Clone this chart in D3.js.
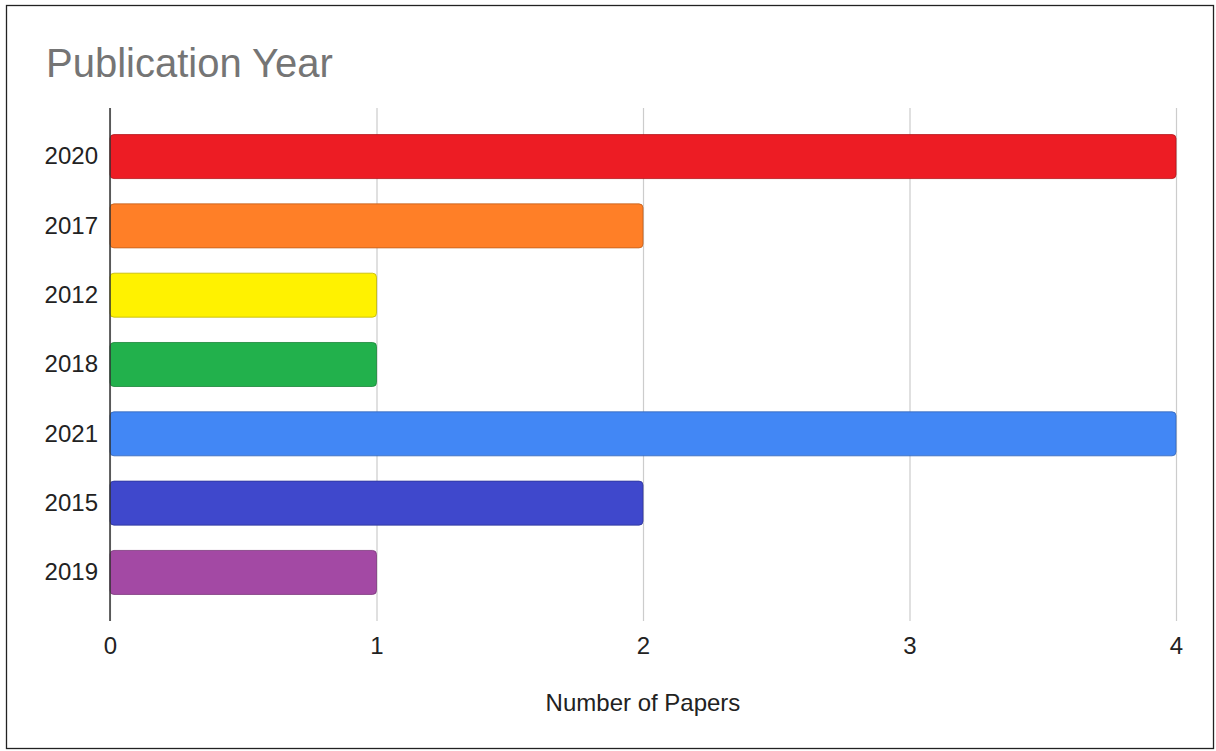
<!DOCTYPE html>
<html>
<head>
<meta charset="utf-8">
<script src="https://cdn.jsdelivr.net/npm/d3@7"></script>
<style>
  body { margin: 0; background: #fff; }
  svg text { font-family: "Liberation Sans", Arial, sans-serif; }
</style>
</head>
<body>
<svg id="chart" width="1216" height="751"></svg>
<script>
var years  = ["2020", "2017", "2012", "2018", "2021", "2015", "2019"];
var papers = [4, 2, 1, 1, 4, 2, 1];
var colors = ["#ed1c24", "#ff7f27", "#fff200", "#22b14c", "#4287f5", "#3f48cc", "#a349a4"];
var xTicks = [0, 1, 2, 3, 4];

var data = years.map(function(y, i) {
  return {year: y, value: papers[i], color: colors[i]};
});

var margin = {top: 108, right: 40, bottom: 130, left: 110},
    width  = 1176 - margin.left,
    height = 621 - margin.top;

var svg = d3.select("#chart");

// outer frame
svg.append("rect")
  .attr("x", 6.5).attr("y", 5.5)
  .attr("width", 1207).attr("height", 743)
  .attr("fill", "#fff")
  .attr("stroke", "#222")
  .attr("stroke-width", 1.3);

svg.append("text")
  .attr("x", 46)
  .attr("y", 77)
  .attr("font-size", 40)
  .attr("fill", "#757575")
  .text("Publication Year");

var g = svg.append("g")
  .attr("transform", "translate(" + margin.left + "," + margin.top + ")");

var xScale = d3.scaleLinear()
  .domain([0, 4])
  .range([0, width]);

var yScale = d3.scaleBand()
  .domain(years)
  .range([0, height])
  .paddingInner(0.365)
  .paddingOuter(0.383);

// grid + x labels
var xAxis = g.append("g")
  .attr("transform", "translate(0," + height + ")")
  .call(d3.axisBottom(xScale)
          .tickValues(xTicks)
          .tickFormat(d3.format("d"))
          .tickSize(-height));
xAxis.select(".domain").remove();
xAxis.selectAll(".tick line").attr("stroke", "#cccccc").attr("stroke-width", 1.2);
xAxis.selectAll(".tick text")
  .attr("y", 33)
  .attr("dy", null)
  .attr("font-size", 24)
  .attr("fill", "#222")
  .attr("font-family", "Liberation Sans, Arial, sans-serif");

// bars
g.selectAll(".bar")
  .data(data)
  .enter().append("rect")
  .attr("class", "bar")
  .attr("x", xScale(0))
  .attr("y", function(d) { return yScale(d.year); })
  .attr("width", function(d) { return xScale(d.value) - xScale(0); })
  .attr("height", yScale.bandwidth())
  .attr("rx", 4)
  .attr("fill", function(d) { return d.color; })
  .attr("stroke", function(d) { return d3.color(d.color).darker(0.8); })
  .attr("stroke-width", 0.8);

// y axis
var yAxis = g.append("g")
  .call(d3.axisLeft(yScale).tickSize(0).tickPadding(12));
yAxis.select(".domain").remove();
yAxis.selectAll(".tick text")
  .attr("font-size", 24)
  .attr("fill", "#222")
  .attr("font-family", "Liberation Sans, Arial, sans-serif");

g.append("line")
  .attr("x1", xScale(0)).attr("x2", xScale(0))
  .attr("y1", 0).attr("y2", height)
  .attr("stroke", "#333")
  .attr("stroke-width", 1.5);

svg.append("text")
  .attr("x", margin.left + width / 2)
  .attr("y", 711)
  .attr("text-anchor", "middle")
  .attr("font-size", 24)
  .attr("fill", "#222")
  .text("Number of Papers");
</script>
</body>
</html>
